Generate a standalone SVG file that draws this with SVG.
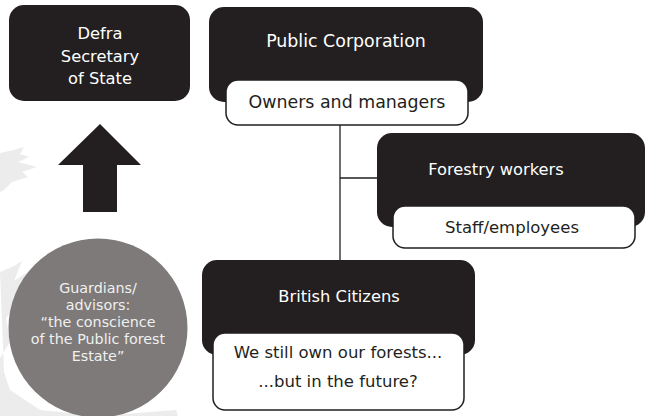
<svg xmlns="http://www.w3.org/2000/svg" width="645" height="416" viewBox="0 0 645 416">
  <style>
    .dark { fill: #231f20; }
    .card { fill: #ffffff; stroke: #231f20; stroke-width: 1.5; }
    .brush { fill: #ececec; }
    .lbl { font-family: "DejaVu Sans", "Liberation Sans", sans-serif; text-anchor: middle; }
    .w { fill: #ffffff; font-size: 16.3px; }
    .k { fill: #231f20; font-size: 16.5px; }
    .big { font-size: 17.4px; }
    .g { fill: #f0f0f0; font-size: 14.3px; }
    .link { stroke: #231f20; stroke-width: 1.3; fill: none; }
  </style>

  <!-- soft brush strokes in the background -->
  <g id="backdrop">
    <polygon class="brush" points="0,153 14,150 24,147 20,154 29,157 18,162 37,167 22,172 28,177 12,182 4,190 0,192"/>
    <polygon class="brush" points="0,272 14,266 22,261 14,281 32,269 13,298 23,297 6,318 10,342 0,358 0,416 178,416 176,410 150,412 100,416 40,410 10,390 4,372"/>
  </g>

  <!-- connectors -->
  <g id="connectors">
    <line class="link" x1="340" y1="124" x2="340" y2="262"/>
    <line class="link" x1="340" y1="178" x2="380" y2="178"/>
  </g>

  <g id="defra">
    <rect class="dark" x="9" y="5" width="181" height="96" rx="15"/>
    <text class="lbl w" x="100" y="39">Defra</text>
    <text class="lbl w" x="100" y="62">Secretary</text>
    <text class="lbl w" x="100" y="84">of State</text>
  </g>

  <g id="up-arrow">
    <polygon class="dark" points="100,124 141,165 117,165 117,212 83,212 83,165 58,165"/>
  </g>

  <g id="guardians">
    <circle cx="98" cy="328" r="89.5" fill="#7d7a79"/>
    <text class="lbl g" x="98" y="293">Guardians/</text>
    <text class="lbl g" x="98" y="310">advisors:</text>
    <text class="lbl g" x="98" y="327">“the conscience</text>
    <text class="lbl g" x="98" y="344">of the Public forest</text>
    <text class="lbl g" x="98" y="361">Estate”</text>
  </g>

  <g id="public-corporation">
    <rect class="dark" x="209" y="7" width="274" height="95" rx="15"/>
    <text class="lbl w big" x="346" y="47">Public Corporation</text>
    <rect class="card" x="226" y="80" width="242" height="45" rx="12"/>
    <text class="lbl k big" x="347" y="108">Owners and managers</text>
  </g>

  <g id="forestry-workers">
    <rect class="dark" x="377" y="133" width="268" height="94" rx="15"/>
    <text class="lbl w" x="496" y="175">Forestry workers</text>
    <rect class="card" x="393" y="206" width="242" height="42" rx="12"/>
    <text class="lbl k" x="512" y="233">Staff/employees</text>
  </g>

  <g id="british-citizens">
    <rect class="dark" x="202" y="260" width="273" height="95" rx="15"/>
    <text class="lbl w" x="339" y="302">British Citizens</text>
    <rect class="card" x="213" y="333" width="251" height="77" rx="12"/>
    <text class="lbl k" x="338" y="358">We still own our forests...</text>
    <text class="lbl k" x="338" y="387">...but in the future?</text>
  </g>
</svg>
